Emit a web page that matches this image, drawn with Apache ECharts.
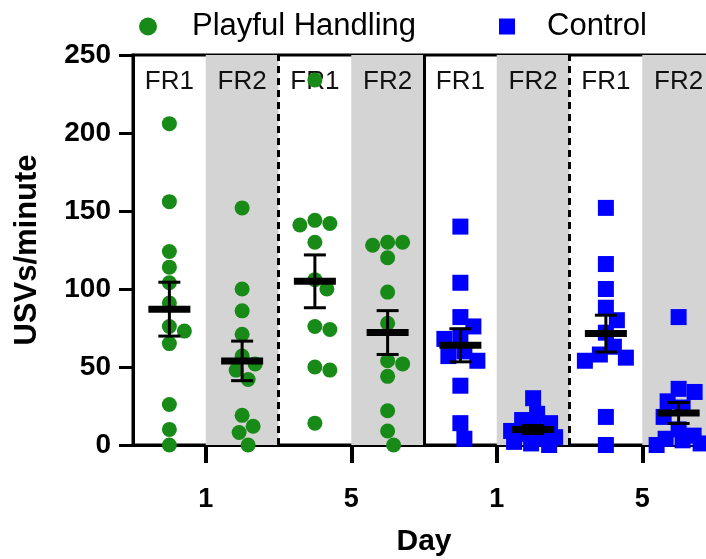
<!DOCTYPE html>
<html>
<head>
<meta charset="utf-8">
<script src="https://cdn.jsdelivr.net/npm/echarts@6/dist/echarts.min.js"></script>
<style>
  html, body { margin: 0; background: #fff; }
  #c { width: 706px; height: 559px; }
</style>
</head>
<body>
<div id="c"></div>
<script>
const FONT = '"Liberation Sans", Arial, Helvetica, sans-serif';
const GREEN = '#188a18';
const BLUE = '#0000ff';
const GREY = '#d4d4d4';

// one slot per column: PH day1 FR1/FR2, PH day5 FR1/FR2, Control day1 FR1/FR2, Control day5 FR1/FR2
const slotLabels = ['FR1', 'FR2', 'FR1', 'FR2', 'FR1', 'FR2', 'FR1', 'FR2'];
const dayTickAt = [1, 3, 5, 7];
const dayLabels = ['1', '5', '1', '5'];

// USVs/minute (each animal one point)
const phD1FR1 = [206, 156, 124, 114, 104, 91, 76, 73, 65, 26, 10, 0];
const phD1FR2 = [152, 100, 86, 71, 57, 52, 48, 42, 19, 12, 8, 0];
const phD5FR1 = [234, 144, 142, 141, 130, 106, 100, 76, 74, 50, 48, 14];
const phD5FR2 = [130, 130, 128, 120, 98, 78, 54, 52, 44, 22, 9, 0];
const ctD1FR1 = [140, 104, 82, 76, 70, 68, 60, 57, 54, 38, 14, 4];
const ctD1FR2 = [30, 20, 16, 14, 11, 9, 7, 5, 4, 2, 1, 0];
const ctD5FR1 = [152, 116, 100, 88, 80, 72, 63, 58, 56, 54, 18, 0];
const ctD5FR2 = [82, 36, 34, 28, 24, 18, 10, 6, 4, 3, 1, 0];

const phGroups = [phD1FR1, phD1FR2, phD5FR1, phD5FR2];
const ctGroups = [ctD1FR1, ctD1FR2, ctD5FR1, ctD5FR2];

const chart = echarts.init(document.getElementById('c'), null, { renderer: 'canvas' });

function meanSem(vals) {
  const n = vals.length;
  const m = vals.reduce((a, b) => a + b, 0) / n;
  const sd = Math.sqrt(vals.reduce((a, b) => a + (b - m) * (b - m), 0) / (n - 1));
  return [m, sd / Math.sqrt(n)];
}

const errData = phGroups.concat(ctGroups).map((g, i) => {
  const [m, s] = meanSem(g);
  return [i + 0.5, m, s];
});

const bandData = slotLabels.map((lab, i) => [
  {
    xAxis: i, yAxis: 0, name: lab,
    itemStyle: { color: i % 2 ? GREY : 'rgba(0,0,0,0)' }
  },
  { xAxis: i + 1, yAxis: 250 }
]);

const labelStyle = { fontFamily: FONT, fontSize: 26, color: '#111' };

chart.setOption({
  animation: false,
  backgroundColor: '#fff',
  legend: [
    {
      data: ['Playful Handling'], left: 134, top: 6,
      itemWidth: 18, itemHeight: 18, selectedMode: false,
      textStyle: { fontFamily: FONT, fontSize: 31, color: '#000', padding: [0, 0, 0, 30] }
    },
    {
      data: ['Control'], left: 494, top: 6,
      itemWidth: 16, itemHeight: 16, selectedMode: false,
      textStyle: { fontFamily: FONT, fontSize: 31, color: '#000', padding: [0, 0, 0, 27] }
    }
  ],
  grid: {
    left: 133, top: 55, width: 582, height: 390,
    outerBoundsMode: 'none', containLabel: false,
    show: true, borderColor: '#000', borderWidth: 3, backgroundColor: 'transparent'
  },
  xAxis: {
    type: 'value', min: 0, max: 8,
    name: 'Day', nameLocation: 'middle', nameGap: 82,
    nameTextStyle: { fontFamily: FONT, fontSize: 30, fontWeight: 'bold', color: '#000' },
    axisLine: { show: true, lineStyle: { color: '#000', width: 3 } },
    axisTick: { show: true, length: 18, customValues: dayTickAt, lineStyle: { color: '#000', width: 4 } },
    axisLabel: {
      customValues: dayTickAt, margin: 41,
      formatter: v => dayLabels[dayTickAt.indexOf(v)],
      fontFamily: FONT, fontSize: 27, fontWeight: 'bold', color: '#000'
    },
    splitLine: { show: false }
  },
  yAxis: {
    type: 'value', min: 0, max: 250, interval: 50,
    name: 'USVs/minute', nameLocation: 'middle', nameGap: 90,
    nameTextStyle: { fontFamily: FONT, fontSize: 31, fontWeight: 'bold', color: '#000' },
    axisLine: { show: true, lineStyle: { color: '#000', width: 3 } },
    axisTick: { show: true, length: 14, lineStyle: { color: '#000', width: 3 } },
    axisLabel: { margin: 22, fontFamily: FONT, fontSize: 28, fontWeight: 'bold', color: '#000' },
    splitLine: { show: false }
  },
  series: [
    {
      type: 'scatter', z: -1, silent: true, data: [],
      markArea: {
        silent: true,
        label: Object.assign({ show: true, position: 'insideTop', distance: 14 }, labelStyle),
        data: bandData
      },
      markLine: {
        silent: true, symbol: 'none',
        label: { show: false },
        data: [
          { xAxis: 2, lineStyle: { color: '#000', width: 3, type: [7, 5] } },
          { xAxis: 4, lineStyle: { color: '#000', width: 3, type: 'solid' } },
          { xAxis: 6, lineStyle: { color: '#000', width: 3, type: [7, 5] } }
        ]
      }
    },
    {
      name: 'Playful Handling', type: 'scatter', symbol: 'circle', symbolSize: 15,
      itemStyle: { color: GREEN, opacity: 1 }, clip: false, z: 2, data: []
    },
    {
      name: 'Control', type: 'scatter', symbol: 'rect', symbolSize: 16,
      itemStyle: { color: BLUE, opacity: 1 }, clip: false, z: 2, data: []
    },
    {
      type: 'custom', z: 5, clip: false, silent: true,
      renderItem: (params, api) => {
        const x = api.value(0), m = api.value(1), s = api.value(2);
        const c = api.coord([x, m]);
        const t = api.coord([x, m + s]);
        const b = api.coord([x, m - s]);
        const st = { stroke: '#000', lineWidth: 3 };
        return {
          type: 'group',
          children: [
            { type: 'line', shape: { x1: c[0], y1: t[1], x2: c[0], y2: b[1] }, style: st },
            { type: 'line', shape: { x1: c[0] - 11, y1: t[1], x2: c[0] + 11, y2: t[1] }, style: st },
            { type: 'line', shape: { x1: c[0] - 11, y1: b[1], x2: c[0] + 11, y2: b[1] }, style: st },
            { type: 'rect', shape: { x: c[0] - 21, y: c[1] - 3.5, width: 42, height: 7 }, style: { fill: '#000' } }
          ]
        };
      },
      data: errData
    }
  ]
});

// Prism-style column scatter: spread overlapping points sideways, in pixel space
function swarm(vals, slot, d, maxOff) {
  const cx = chart.convertToPixel({ gridIndex: 0 }, [slot + 0.5, 0])[0];
  const placed = [];
  return vals.map(v => {
    const py = chart.convertToPixel({ gridIndex: 0 }, [slot + 0.5, v])[1];
    let pick = null, bestOff = 0, bestDist = -1;
    for (let k = 0; k <= 2 * maxOff; k++) {
      const off = (k % 2 ? 1 : -1) * Math.ceil(k / 2);
      let minD = Infinity;
      placed.forEach(p => {
        const dd = Math.hypot(p[0] - (cx + off), p[1] - py);
        if (dd < minD) minD = dd;
      });
      if (minD >= d) { pick = off; break; }
      if (minD > bestDist) { bestDist = minD; bestOff = off; }
    }
    if (pick === null) pick = bestOff;
    placed.push([cx + pick, py]);
    const xv = chart.convertFromPixel({ gridIndex: 0 }, [cx + pick, py])[0];
    return [xv, v];
  });
}

const phPts = [].concat(...phGroups.map((g, i) => swarm(g, i, 15, 16)));
const ctPts = [].concat(...ctGroups.map((g, i) => swarm(g, i + 4, 16, 22)));

chart.setOption({
  series: [{}, { data: phPts }, { data: ctPts }, {}]
});
</script>
</body>
</html>
